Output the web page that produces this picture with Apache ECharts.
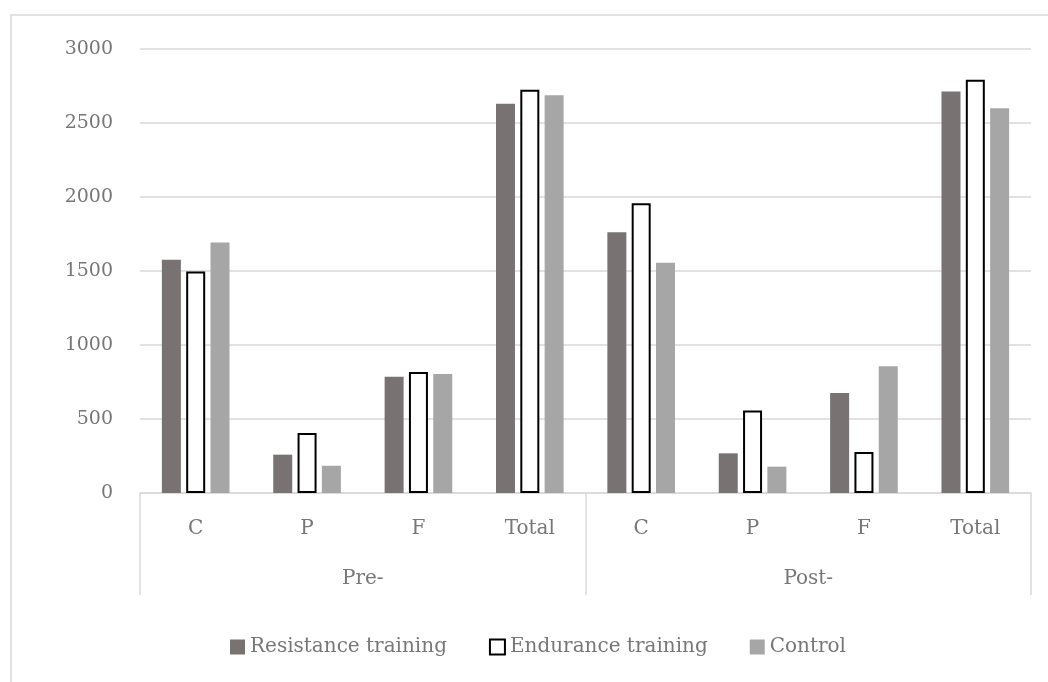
<!DOCTYPE html>
<html>
<head>
<meta charset="utf-8">
<script src="https://cdn.jsdelivr.net/npm/echarts@6/dist/echarts.min.js"></script>
<style>
  html, body { margin: 0; padding: 0; background: #fff; }
  #chart { width: 1048px; height: 682px; }
</style>
</head>
<body>
<div id="chart"></div>
<script>
var categories = ['C', 'P', 'F', 'Total', 'C', 'P', 'F', 'Total']
var phases = ['Pre-', 'Post-']
var resistance = [1576, 259, 786, 2630, 1761, 268, 676, 2712]
var endurance = [1497, 405, 817, 2725, 1957, 558, 277, 2793]
var control = [1693, 184, 804, 2687, 1556, 178, 856, 2599]

var font = '"DejaVu Serif", "Liberation Serif", serif'
var textColor = '#777777'
var lineColor = '#d9d9d9'
var fontSize = 19

var chart = echarts.init(document.getElementById('chart'))

chart.setOption({
  animation: false,
  textStyle: { fontFamily: font },
  graphic: [
    {
      type: 'rect',
      shape: { x: 11, y: 15, width: 1040, height: 680 },
      style: { fill: 'none', stroke: lineColor, lineWidth: 1.5 },
      silent: true
    }
  ],
  legend: {
    bottom: 20,
    left: 225,
    icon: 'rect',
    itemWidth: 15,
    itemHeight: 15,
    itemGap: 42,
    textStyle: { fontFamily: font, fontSize: 20, color: textColor },
    data: ['Resistance training', 'Endurance training', 'Control']
  },
  grid: {
    left: 140,
    right: 17,
    top: 49,
    bottom: 189
  },
  xAxis: [
    {
      type: 'category',
      data: categories,
      axisLine: { lineStyle: { color: lineColor, width: 1.5 } },
      axisTick: { show: false },
      axisLabel: { margin: 26, fontSize: 20, color: textColor, fontFamily: font }
    },
    {
      type: 'category',
      data: phases,
      position: 'bottom',
      offset: 102,
      axisLine: { show: false },
      axisTick: { show: true, inside: true, length: 102, lineStyle: { color: lineColor, width: 1.5 } },
      axisLabel: { inside: true, margin: 6, fontSize: 20, color: textColor, fontFamily: font },
      splitLine: { show: false }
    }
  ],
  yAxis: {
    type: 'value',
    min: 0,
    max: 3000,
    interval: 500,
    axisLine: { show: false },
    axisTick: { show: false },
    axisLabel: {
      margin: 27,
      fontSize: fontSize,
      color: textColor,
      fontFamily: font,
      formatter: function (v) { return String(v) }
    },
    splitLine: { lineStyle: { color: lineColor, width: 1.5 } }
  },
  series: [
    {
      name: 'Resistance training',
      type: 'bar',
      data: resistance,
      barWidth: 19,
      barGap: '28%',
      itemStyle: { color: '#787372' }
    },
    {
      name: 'Endurance training',
      type: 'bar',
      data: endurance,
      barWidth: 19,
      barGap: '28%',
      itemStyle: { color: '#ffffff', borderColor: '#000000', borderWidth: 2 }
    },
    {
      name: 'Control',
      type: 'bar',
      data: control,
      barWidth: 19,
      barGap: '28%',
      itemStyle: { color: '#a6a6a6' }
    }
  ]
})
</script>
</body>
</html>
